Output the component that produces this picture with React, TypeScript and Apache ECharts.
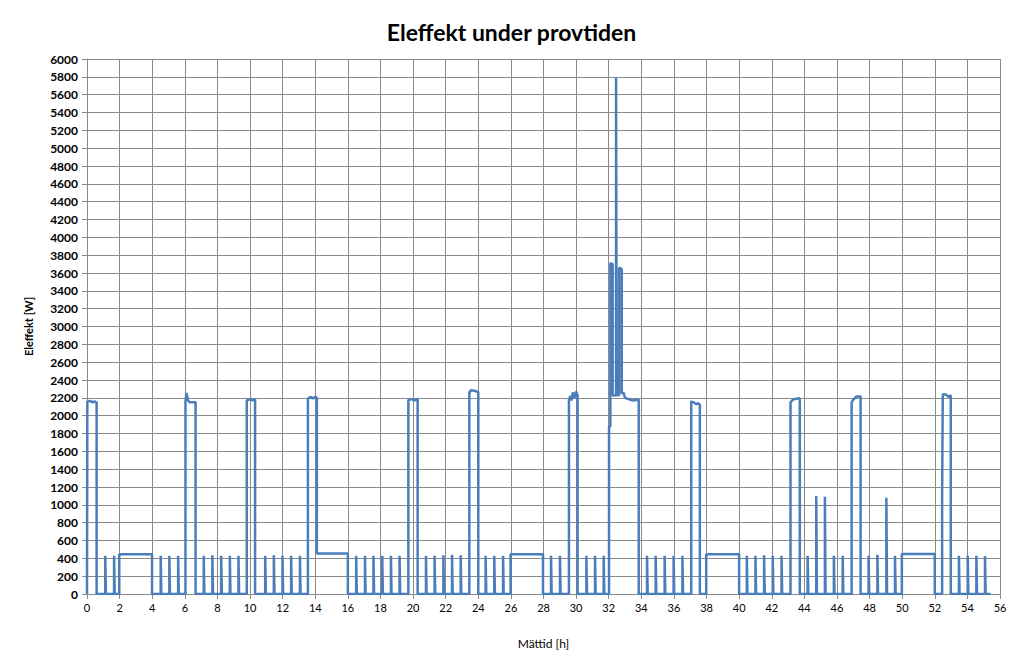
import React, { useEffect, useRef } from "react";
import * as echarts from "echarts";

// High-power blocks: profile points [time h, power W]
const highBlocks: [number, number][][] = [
  [[0.02, 2160], [0.2, 2165], [0.35, 2150], [0.45, 2160], [0.59, 2150]],
  [[6.04, 2160], [6.1, 2255], [6.2, 2170], [6.3, 2150], [6.66, 2150]],
  [[9.8, 2170], [10.0, 2185], [10.15, 2170], [10.31, 2185]],
  [[13.55, 2190], [13.7, 2210], [13.85, 2195], [14.0, 2210], [14.1, 2200]],
  [[19.71, 2175], [19.9, 2185], [20.1, 2170], [20.28, 2190]],
  [[23.45, 2260], [23.55, 2285], [23.75, 2280], [24.0, 2265]],
  [[29.56, 2180], [29.65, 2220], [29.72, 2170], [29.8, 2260], [29.9, 2200], [30.0, 2270], [30.09, 2230]],
  [
    [32.02, 1880], [32.1, 1880], [32.1, 3710], [32.24, 3700], [32.24, 2230], [32.45, 2225],
    [32.45, 5790], [32.49, 5790], [32.49, 2230], [32.64, 2230], [32.64, 3660], [32.8, 3645],
    [32.8, 2250], [32.9, 2260], [33.0, 2200], [33.3, 2180], [33.5, 2170], [33.84, 2180],
  ],
  [[37.06, 2160], [37.2, 2150], [37.35, 2130], [37.5, 2140], [37.59, 2120]],
  [[43.15, 2150], [43.3, 2180], [43.5, 2190], [43.72, 2195]],
  [[46.9, 2150], [47.0, 2180], [47.2, 2215], [47.45, 2215]],
  [[52.45, 1100], [52.49, 1100], [52.49, 2240], [52.7, 2235], [52.85, 2210], [52.98, 2230]],
];

// Idle plateaus: [start h, end h, power W]
const plateaus: [number, number, number][] = [
  [1.98, 3.99, 445],
  [14.1, 16.0, 455],
  [25.98, 27.97, 445],
  [37.98, 40.0, 445],
  [49.98, 52.0, 450],
];

// Short pulses: [time h, power W]
const spikes: [number, number][] = [
  [1.12, 430], [1.66, 430],
  [4.52, 430], [5.05, 430], [5.59, 430],
  [7.16, 430], [7.69, 435], [8.23, 430], [8.76, 430], [9.29, 430],
  [10.93, 430], [11.46, 435], [11.99, 430], [12.52, 430], [13.06, 430],
  [16.51, 430], [17.05, 430], [17.57, 430], [18.11, 430], [18.64, 430], [19.17, 430],
  [20.79, 430], [21.32, 430], [21.86, 435], [22.39, 440], [22.92, 435],
  [24.45, 430], [24.98, 430], [25.52, 430],
  [28.46, 430], [29.01, 430],
  [30.63, 430], [31.16, 430], [31.69, 430],
  [34.35, 430], [34.88, 430], [35.43, 430], [35.98, 430], [36.52, 430],
  [40.47, 430], [41.0, 430], [41.53, 435], [42.06, 430], [42.6, 430],
  [44.2, 430], [44.73, 1100], [45.26, 1090], [45.81, 430], [46.35, 430],
  [47.94, 430], [48.48, 440], [49.03, 1080], [49.56, 430],
  [53.48, 430], [54.02, 430], [54.55, 430], [55.08, 425],
];

const spikeWidth = 0.04;
const endTime = 55.43;

const xTicks = { min: 0, max: 56, interval: 2 };
const yTicks = { min: 0, max: 6000, interval: 200 };

function buildSeries(): [number, number][] {
  const segs: [number, number][][] = [
    ...highBlocks,
    ...plateaus.map(([a, b, v]) => [[a, v], [b, v]] as [number, number][]),
    ...spikes.map(([t, v]) => [[t, v], [t + spikeWidth, v]] as [number, number][]),
  ].sort((a, b) => a[0][0] - b[0][0]);
  const pts: [number, number][] = [[0, 0]];
  segs.forEach((seg, i) => {
    const last = pts[pts.length - 1];
    const start = seg[0][0];
    if (last[1] === 0) pts.push([start, 0]);
    seg.forEach((p) => pts.push([p[0], p[1]]));
    const end = seg[seg.length - 1][0];
    const next = segs[i + 1];
    if (!next || next[0][0] - end > 1e-6) pts.push([end, 0]);
  });
  pts.push([endTime, 0]);
  return pts;
}

export default function App() {
  const ref = useRef<HTMLDivElement>(null);
  useEffect(() => {
    if (!ref.current) return;
    const chart = echarts.init(ref.current, null, { renderer: "svg" });
    const gridColor = "#8a8a8a";
    chart.setOption({
      animation: false,
      backgroundColor: "#ffffff",
      title: {
        text: "Eleffekt under provtiden",
        left: "center",
        top: 15,
        textStyle: { fontFamily: "Lato, 'Open Sans', sans-serif", fontSize: 23, fontWeight: "bold", color: "#000" },
      },
      grid: { left: 87, right: 23, top: 59, bottom: 76, containLabel: false },
      xAxis: {
        type: "value",
        min: xTicks.min,
        max: xTicks.max,
        interval: xTicks.interval,
        name: "Mättid [h]",
        nameLocation: "middle",
        nameGap: 43,
        nameTextStyle: { fontFamily: "Lato, sans-serif", fontSize: 12, color: "#000" },
        axisLine: { show: true, lineStyle: { color: gridColor, width: 1 } },
        axisTick: { show: true, length: 5, lineStyle: { color: gridColor } },
        axisLabel: { fontFamily: "'Liberation Sans Narrow', Lato, sans-serif", fontSize: 11, color: "#000", margin: 8 },
        splitLine: { show: true, lineStyle: { color: gridColor, width: 1 } },
      },
      yAxis: {
        type: "value",
        min: yTicks.min,
        max: yTicks.max,
        interval: yTicks.interval,
        name: "Eleffekt [W]",
        nameLocation: "middle",
        nameGap: 53,
        nameRotate: 90,
        nameTextStyle: { fontFamily: "Lato, sans-serif", fontSize: 11, fontWeight: "bold", color: "#000" },
        axisLine: { show: true, lineStyle: { color: gridColor, width: 1 } },
        axisTick: { show: true, length: 5, lineStyle: { color: gridColor } },
        axisLabel: {
          fontFamily: "Lato, sans-serif",
          fontSize: 12,
          fontWeight: "bold",
          color: "#000",
          margin: 9,
          formatter: (v: number) => String(v),
        },
        splitLine: { show: true, lineStyle: { color: gridColor, width: 1 } },
      },
      series: [
        {
          type: "line",
          data: buildSeries(),
          showSymbol: false,
          symbol: "none",
          lineStyle: { color: "#4a7ebb", width: 2.5 },
          itemStyle: { color: "#4a7ebb" },
        },
      ],
    });
    return () => chart.dispose();
  }, []);
  return <div ref={ref} style={{ position: "fixed", left: 0, top: 0, width: 1023, height: 670 }} />;
}
